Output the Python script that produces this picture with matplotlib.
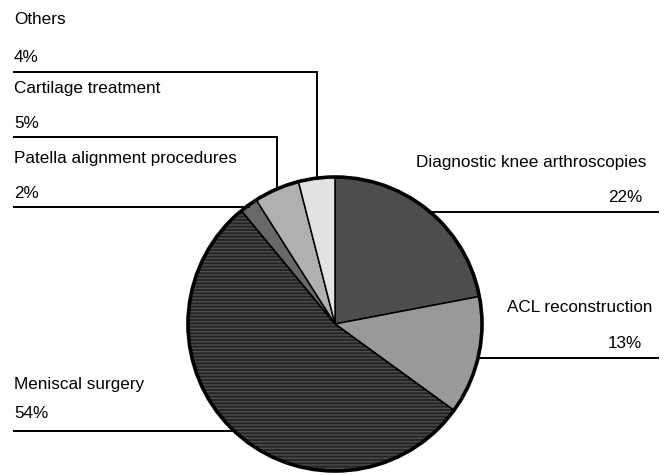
import numpy as np
import matplotlib
matplotlib.use("Agg")
import matplotlib.pyplot as plt
from matplotlib.patches import Wedge, Circle

# Knee arthroscopy procedures, share of all procedures (%)
categories = ["Diagnostic knee arthroscopies", "ACL reconstruction", "Meniscal surgery",
              "Patella alignment procedures", "Cartilage treatment", "Others"]
shares = [22, 13, 54, 2, 5, 4]
colors = ["#4d4d4d", "#999999", "#242424", "#686868", "#b0b0b0", "#e2e2e2"]

W, H = 668, 475
plt.rcParams["font.family"] = ["Liberation Sans", "DejaVu Sans"]

fig = plt.figure(figsize=(W / 100, H / 100), dpi=100)
ax = fig.add_axes([0, 0, 1, 1])
ax.set_xlim(0, W)
ax.set_ylim(0, H)
ax.set_aspect("equal")
ax.axis("off")


def Y(py):
    """Convert a top-down pixel row into the axes' bottom-up coordinate."""
    return H - py


cx, cy, r = 335, Y(324), 147
wedges, _ = ax.pie(shares, colors=colors, startangle=90, counterclock=False,
                   center=(cx, cy), radius=r,
                   wedgeprops=dict(edgecolor="black", linewidth=1.1))
ax.set_xlim(0, W)
ax.set_ylim(0, H)

# streaky texture inside the meniscal slice
mw = wedges[2]
plt.rcParams["hatch.linewidth"] = 1.0
ax.add_patch(Wedge((cx, cy), r, mw.theta1, mw.theta2, facecolor="none",
                   edgecolor="#4c4c4c", hatch="-----", linewidth=0, zorder=mw.zorder + 0.1))
ax.add_patch(Wedge((cx, cy), r, mw.theta1, mw.theta2, facecolor="none",
                   edgecolor="black", linewidth=1.1, zorder=mw.zorder + 0.2))

# heavy outer rim
ax.add_patch(Circle((cx, cy), r, facecolor="none", edgecolor="black", linewidth=2.6, zorder=5))


def rim_point(w):
    mid = np.deg2rad((w.theta1 + w.theta2) / 2)
    return cx + r * np.cos(mid), cy + r * np.sin(mid)


lw_lead = 1.4
fs = 12.3

# left-hand labels: (index, name row, percent row, rule row)
left_labels = [(5, 20, 57, 72), (4, 89, 123, 137), (3, 158, 193, 207), (2, 384, 414, 431)]
for idx, ty, py, ly in left_labels:
    ax.text(14, Y(ty), categories[idx], fontsize=fs, va="center", ha="left")
    ax.text(14, Y(py), f"{shares[idx]}%", fontsize=fs, va="center", ha="left")
    px, pyy = rim_point(wedges[idx])
    if idx in (5, 4):
        ax.plot([14, px, px], [Y(ly), Y(ly), pyy], color="black", lw=lw_lead,
                solid_joinstyle="miter", zorder=1)
    else:
        ax.plot([14, px], [Y(ly), Y(ly)], color="black", lw=lw_lead, zorder=1)

# right-hand labels: (index, name x, name row, percent row, rule row)
right_labels = [(0, 416, 163, 197, 212), (1, 507, 308, 344, 358)]
for idx, tx, ty, py, ly in right_labels:
    ax.text(tx, Y(ty), categories[idx], fontsize=fs, va="center", ha="left")
    ax.text(642, Y(py), f"{shares[idx]}%", fontsize=fs, va="center", ha="right")
    px, _ = rim_point(wedges[idx])
    ax.plot([px, 658], [Y(ly), Y(ly)], color="black", lw=lw_lead, zorder=1)

fig.savefig("out.png", dpi=100)
